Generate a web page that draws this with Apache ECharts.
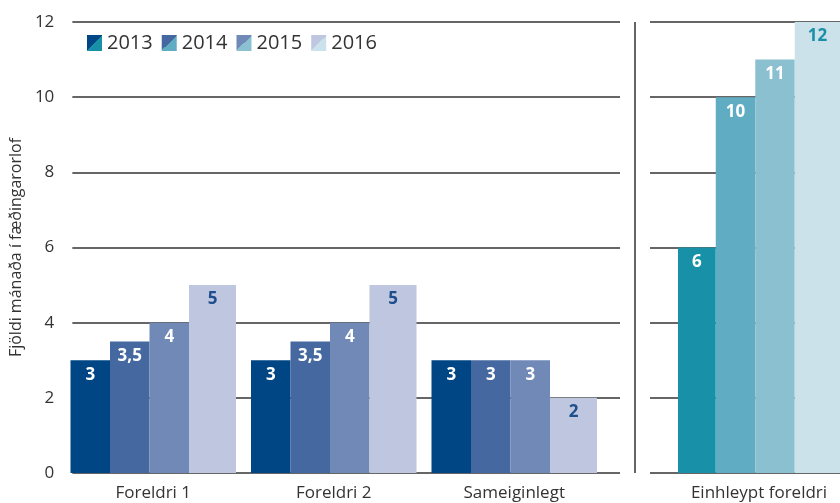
<!DOCTYPE html>
<html>
<head>
<meta charset="utf-8">
<style>
  html, body { margin: 0; padding: 0; background: #fff; }
  #main { width: 840px; height: 503px; }
</style>
<script src="https://cdn.jsdelivr.net/npm/echarts@6/dist/echarts.min.js"></script>
</head>
<body>
<div id="main"></div>
<script>
// flokkar og gildi
var categories = ['Foreldri 1', 'Foreldri 2', 'Sameiginlegt']
var singleCategory = ['Einhleypt foreldri']
var years = ['2013', '2014', '2015', '2016']
var v2013 = [3, 3, 3]
var v2014 = [3.5, 3.5, 3]
var v2015 = [4, 4, 3]
var v2016 = [5, 5, 2]
var single2013 = [6]
var single2014 = [10]
var single2015 = [11]
var single2016 = [12]
var yTicks = [0, 2, 4, 6, 8, 10, 12]

var blues = ['#004684', '#44689f', '#7189b7', '#bec6e0']
var teals = ['#1790a8', '#60adc3', '#8bc0d0', '#cce2ea']
var widths = [39.5, 39.5, 39.5, 47]

var chart = echarts.init(document.getElementById('main'))

function labelOf(last, lastColor) {
  return {
    show: true,
    position: 'insideTop',
    distance: 6,
    fontFamily: 'Open Sans',
    fontWeight: 'bold',
    fontSize: 17,
    color: last ? lastColor : '#fff',
    formatter: function (p) { return String(p.value).replace('.', ',') }
  }
}

var leftData = [v2013, v2014, v2015, v2016]
var rightData = [single2013, single2014, single2015, single2016]
var series = []
years.forEach(function (y, i) {
  series.push({
    name: y, type: 'bar', xAxisIndex: 2, yAxisIndex: 2,
    data: leftData[i], barWidth: widths[i], barGap: '0%',
    itemStyle: { color: blues[i] },
    label: labelOf(i === 3, '#1f4e8c')
  })
})
years.forEach(function (y, i) {
  series.push({
    name: y, type: 'bar', xAxisIndex: 3, yAxisIndex: 3,
    data: rightData[i], barWidth: widths[i], barGap: '0%',
    itemStyle: { color: teals[i] },
    label: labelOf(i === 3, '#1b8fa8')
  })
})

function split(c1, c2) {
  return new echarts.graphic.LinearGradient(0, 0, 1, 1, [
    { offset: 0, color: c1 }, { offset: 0.5, color: c1 },
    { offset: 0.5, color: c2 }, { offset: 1, color: c2 }
  ])
}

var gridY = {
  type: 'value', min: 0, max: 12, interval: 2,
  axisLine: { show: false }, axisTick: { show: false },
  splitLine: { show: true, lineStyle: { color: '#333', width: 1.5 } }
}

var option = {
  animation: false,
  textStyle: { fontFamily: 'Open Sans' },
  legend: {
    left: 87, top: 33, padding: 0,
    itemWidth: 15, itemHeight: 16, itemGap: 9,
    textStyle: { fontSize: 20, color: '#333', fontFamily: 'Open Sans' },
    data: years.map(function (y, i) {
      return { name: y, icon: 'rect', itemStyle: { color: split(blues[i], teals[i]) } }
    })
  },
  grid: [
    { left: 71, right: 220, top: 22, bottom: 30 },
    { left: 650, right: 0, top: 22, bottom: 30 },
    { left: 63, width: 541.5, top: 22, bottom: 30 },
    { left: 678, width: 181, top: 22, bottom: 30 }
  ],
  xAxis: [
    { type: 'value', gridIndex: 0, show: false },
    { type: 'value', gridIndex: 1, show: false },
    {
      type: 'category', gridIndex: 2, data: categories,
      axisLine: { show: false }, axisTick: { show: false },
      axisLabel: { fontSize: 17, color: '#333', margin: 12 }
    },
    {
      type: 'category', gridIndex: 3, data: singleCategory,
      axisLine: { show: false }, axisTick: { show: false },
      axisLabel: { fontSize: 17, color: '#333', margin: 12 }
    }
  ],
  yAxis: [
    Object.assign({}, gridY, {
      gridIndex: 0,
      axisLabel: {
        fontSize: 17, color: '#333', margin: 18,
        formatter: function (v) { return yTicks.indexOf(v) >= 0 ? String(v) : '' }
      },
      name: 'Fjöldi mánaða í fæðingarorlof',
      nameLocation: 'middle', nameGap: 44,
      nameTextStyle: { fontSize: 16, color: '#333' }
    }),
    Object.assign({}, gridY, { gridIndex: 1, axisLabel: { show: false } }),
    { type: 'value', gridIndex: 2, min: 0, max: 12, show: false, splitLine: { show: false } },
    { type: 'value', gridIndex: 3, min: 0, max: 12, show: false, splitLine: { show: false } }
  ],
  graphic: [
    {
      type: 'line', shape: { x1: 635, y1: 22, x2: 635, y2: 473 },
      style: { stroke: '#333', lineWidth: 1.5 }
    }
  ],
  series: series
}

chart.setOption(option)
</script>
</body>
</html>
